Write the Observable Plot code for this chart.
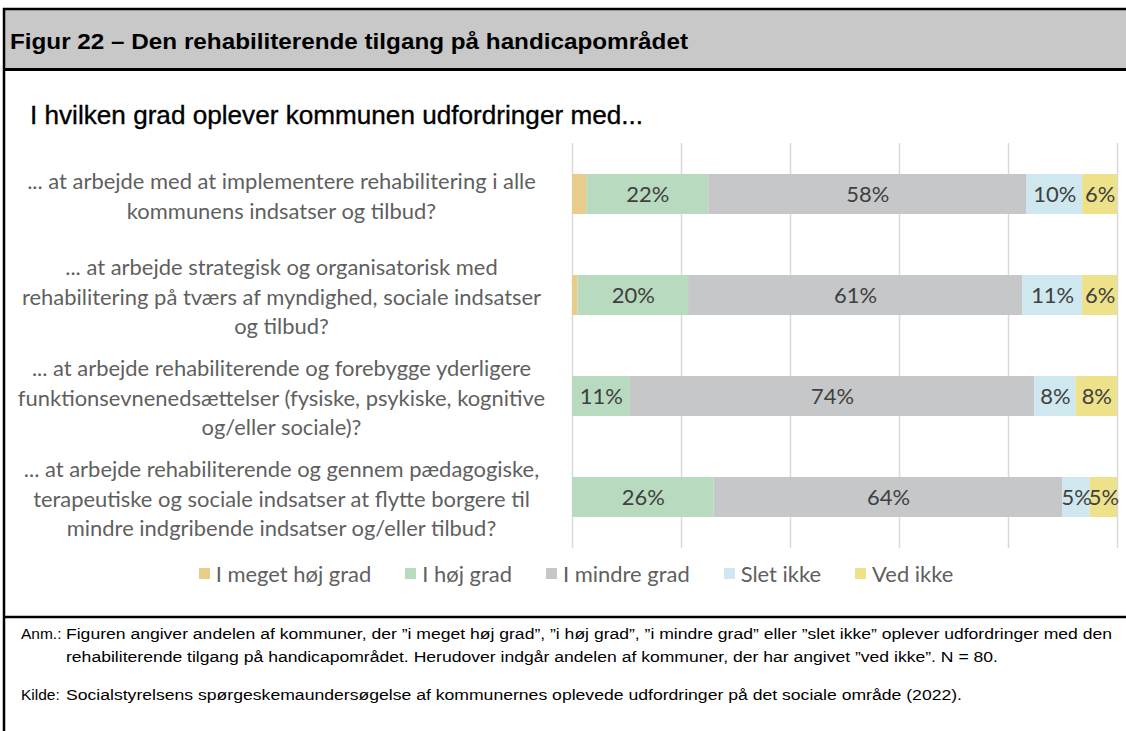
<!DOCTYPE html>
<html><head><meta charset="utf-8">
<script src="https://cdn.jsdelivr.net/npm/d3@7"></script>
<script src="https://cdn.jsdelivr.net/npm/@observablehq/plot@0.6"></script>
<style>
html,body{margin:0;padding:0;background:#fff;}
#page{position:relative;width:1126px;height:731px;overflow:hidden;background:#fff;}
#page > *{position:absolute;}
.legend{display:flex;justify-content:center;align-items:center;gap:34px;}
.legend .item{display:flex;align-items:center;white-space:nowrap;}
.legend .sw{width:11px;height:11px;margin-right:6px;display:inline-block;}
</style></head><body><div id="page"></div>
<script>
// ---------- data ----------
const title = "Figur 22 – Den rehabiliterende tilgang på handicapområdet";
const subtitle = "I hvilken grad oplever kommunen udfordringer med...";
const questions = [
  "... at arbejde med at implementere rehabilitering i alle\nkommunens indsatser og tilbud?",
  "... at arbejde strategisk og organisatorisk med\nrehabilitering på tværs af myndighed, sociale indsatser\nog tilbud?",
  "... at arbejde rehabiliterende og forebygge yderligere\nfunktionsevnenedsættelser (fysiske, psykiske, kognitive\nog/eller sociale)?",
  "... at arbejde rehabiliterende og gennem pædagogiske,\nterapeutiske og sociale indsatser at flytte borgere til\nmindre indgribende indsatser og/eller tilbud?"
];
const responses = ["I meget høj grad", "I høj grad", "I mindre grad", "Slet ikke", "Ved ikke"];
const responseColors = ["#e8cc8a", "#b8dabf", "#c6c7c9", "#cfe7ef", "#ede18a"];
const iMegetHoejGrad = [2.6, 1.0, 0, 0];
const iHoejGrad = [22.4, 20.3, 10.6, 26];
const iMindreGrad = [58.4, 61.3, 74.2, 64];
const sletIkke = [10.2, 11.0, 7.6, 5];
const vedIkke = [6.4, 6.4, 7.6, 5];
const xTicks = [0, 0.2, 0.4, 0.6, 0.8, 1];
const noteAnmLabel = "Anm.:";
const noteAnm = [
  "Figuren angiver andelen af kommuner, der ”i meget høj grad”, ”i høj grad”, ”i mindre grad” eller ”slet ikke” oplever udfordringer med den",
  "rehabiliterende tilgang på handicapområdet. Herudover indgår andelen af kommuner, der har angivet ”ved ikke”. N = 80."
];
const noteKildeLabel = "Kilde:";
const noteKilde = "Socialstyrelsens spørgeskemaundersøgelse af kommunernes oplevede udfordringer på det sociale område (2022).";

// ---------- build table ----------
const series = [iMegetHoejGrad, iHoejGrad, iMindreGrad, sletIkke, vedIkke];
const rows = questions.flatMap((q, i) => responses.map((r, j) => ({q, r, v: series[j][i]})));

// ---------- measurement ----------
const ctx = document.createElement("canvas").getContext("2d");
const LBL = "Lato, 'Noto Sans', sans-serif";
function tw(s, font) { ctx.font = font; return ctx.measureText(s).width; }
const fs = 20 * 528 / tw("funktionsevnenedsættelser (fysiske, psykiske, kognitive", `20px ${LBL}`);
const lineH = 29.5 / fs;
const labelCenter = 281; // centre of the label column, in page pixels
const marginLeft = 572;

const page = document.getElementById("page");

// ---------- frame + texts ----------
const svg = d3.select(page).append("svg")
  .attr("width", 1126).attr("height", 731).style("left", "0px").style("top", "0px");
svg.append("rect").attr("x", 4).attr("y", 9).attr("width", 1130).attr("height", 60).attr("fill", "#c8c8c8");
svg.append("line").attr("x1", 3).attr("x2", 1126).attr("y1", 9).attr("y2", 9).attr("stroke", "#000").attr("stroke-width", 2.5);
svg.append("line").attr("x1", 3).attr("x2", 1126).attr("y1", 69.5).attr("y2", 69.5).attr("stroke", "#000").attr("stroke-width", 3);
svg.append("line").attr("x1", 3).attr("x2", 1126).attr("y1", 617).attr("y2", 617).attr("stroke", "#000").attr("stroke-width", 2.5);
svg.append("line").attr("x1", 4).attr("x2", 4).attr("y1", 8).attr("y2", 731).attr("stroke", "#000").attr("stroke-width", 2.5);
svg.append("text").text(title).attr("x", 10).attr("y", 49)
  .attr("font-family", "'Liberation Sans', Arial, sans-serif").attr("font-weight", "bold").attr("font-size", 22)
  .attr("textLength", 678).attr("lengthAdjust", "spacingAndGlyphs").attr("fill", "#000");
svg.append("text").text(subtitle).attr("x", 30).attr("y", 124)
  .attr("font-family", "'Liberation Sans', Arial, sans-serif").attr("font-size", 26)
  .attr("stroke", "#000").attr("stroke-width", 0.35)
  .attr("textLength", 613).attr("lengthAdjust", "spacingAndGlyphs").attr("fill", "#000");
const noteFont = "'Liberation Sans', Arial, sans-serif";
const notes = [
  {t: noteAnmLabel, x: 21, y: 639},
  {t: noteAnm[0], x: 66, y: 639, len: 1046},
  {t: noteAnm[1], x: 66, y: 662, len: 932},
  {t: noteKildeLabel, x: 21, y: 700},
  {t: noteKilde, x: 66, y: 700, len: 896}
];
notes.forEach(n => {
  const t = svg.append("text").text(n.t).attr("x", n.x).attr("y", n.y)
    .attr("font-family", noteFont).attr("font-size", 15.5).attr("fill", "#000");
  if (n.len) t.attr("textLength", n.len).attr("lengthAdjust", "spacingAndGlyphs");
});

// ---------- chart ----------
const chart = Plot.plot({
  width: 1126, height: 470,
  marginLeft, marginRight: 9, marginTop: 23, marginBottom: 42,
  style: {fontFamily: LBL, background: "transparent", overflow: "visible"},
  x: {domain: [0, 1], axis: null},
  y: {domain: questions, axis: null, paddingInner: 0.6, paddingOuter: 0.3},
  color: {domain: responses, range: responseColors},
  marks: [
    Plot.gridX(xTicks, {stroke: "#d9d9d9", strokeOpacity: 1, strokeWidth: 1.5}),
    Plot.barX(rows, Plot.stackX({offset: "normalize", order: responses, z: "r", x: "v", y: "q", fill: "r"})),
    Plot.text(rows, Plot.stackX({
      offset: "normalize", order: responses, z: "r", x: "v", y: "q",
      text: d => (d.r === responses[0] || d.v === 0) ? null : Math.round(d.v) + "%",
      fill: "#404040", fontSize: fs, textAnchor: "middle"
    })),
    Plot.text(questions, {
      y: d => d, text: d => d, frameAnchor: "left", textAnchor: "middle",
      dx: labelCenter - marginLeft, fontSize: fs, lineHeight: lineH, fill: "#5f5f5f"
    })
  ]
});
chart.style.left = "0px";
chart.style.top = "120px";
page.appendChild(chart);

// ---------- legend ----------
const legend = d3.select(page).append("div").attr("class", "legend")
  .style("left", "0px").style("top", "560px").style("width", "1152px").style("height", "26px")
  .style("font-family", LBL).style("font-size", fs + "px").style("color", "#5f5f5f");
responses.forEach((r, i) => {
  const it = legend.append("div").attr("class", "item");
  it.append("span").attr("class", "sw").style("background", responseColors[i]);
  it.append("span").text(r);
});
</script></body></html>
